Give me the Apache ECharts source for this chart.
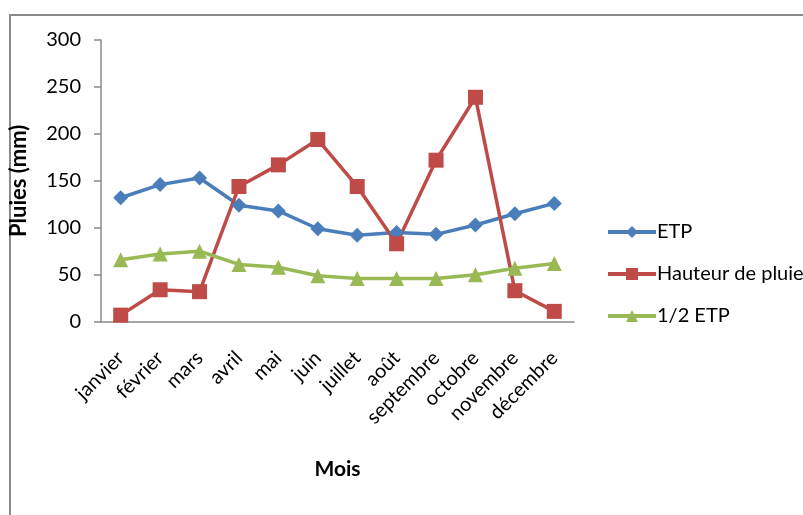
<!DOCTYPE html>
<html>
<head>
<meta charset="utf-8">
<script src="https://cdn.jsdelivr.net/npm/echarts@6/dist/echarts.min.js"></script>
<style>
html,body{margin:0;padding:0;background:#fff;}
#chart{width:803px;height:515px;}
</style>
</head>
<body>
<div id="chart"></div>
<script>
// Mois de l'année
const mois = ['janvier','février','mars','avril','mai','juin','juillet','août','septembre','octobre','novembre','décembre'];
// Évapotranspiration potentielle (mm)
const etp = [132, 146, 153, 124, 118, 99, 92, 95, 93, 103, 115, 126];
// Hauteur de pluie mensuelle (mm)
const pluie = [7, 34, 32, 144, 167, 194, 144, 83, 172, 239, 33, 11];
// Moitié de l'ETP (mm)
const demiEtp = [66, 72, 75, 61, 58, 49, 46, 46, 46, 50, 57, 62];
// Graduations de l'axe vertical
const yTicks = [0, 50, 100, 150, 200, 250, 300];

const FONT = 'Lato, "Open Sans", sans-serif';
const chart = echarts.init(document.getElementById('chart'), null, {renderer: 'canvas'});

const mkSeries = (name, data, color, symbol, size) => ({
  name, type: 'line', data,
  symbol, symbolSize: size,
  lineStyle: {color, width: 3.5},
  itemStyle: {color},
  emphasis: {disabled: true},
  animation: false
});

chart.setOption({
  animation: false,
  graphic: [{
    type: 'rect',
    shape: {x: 10, y: 15, width: 820, height: 530},
    style: {fill: 'none', stroke: '#8a8a8a', lineWidth: 2},
    silent: true
  }],
  grid: {left: 100, top: 40, width: 474, height: 281.7},
  legend: {
    orient: 'vertical',
    left: 601, top: 217,
    itemWidth: 48, itemHeight: 15, itemGap: 22,
    lineStyle: {width: 4},
    textStyle: {fontFamily: FONT, fontSize: 20, color: '#000', padding: [0, 0, 0, -4]},
    data: ['ETP', 'Hauteur de pluie', '1/2 ETP']
  },
  xAxis: {
    type: 'category',
    data: mois,
    boundaryGap: true,
    axisLine: {lineStyle: {color: '#8a8a8a', width: 1.5}},
    axisTick: {show: false},
    axisLabel: {rotate: 45, interval: 0, margin: 33, fontFamily: FONT, fontSize: 20, color: '#000'},
    name: 'Mois',
    nameLocation: 'middle',
    nameGap: 137,
    nameTextStyle: {fontFamily: FONT, fontSize: 21, fontWeight: 'bold', color: '#000'}
  },
  yAxis: {
    type: 'value',
    min: yTicks[0], max: yTicks[yTicks.length - 1], interval: yTicks[1] - yTicks[0],
    axisLine: {show: true, lineStyle: {color: '#8a8a8a', width: 1.5}},
    axisTick: {show: true, length: 7, lineStyle: {color: '#8a8a8a', width: 1.5}},
    splitLine: {show: false},
    axisLabel: {margin: 20, fontFamily: FONT, fontSize: 20, color: '#000'},
    name: 'Pluies (mm)',
    nameLocation: 'middle',
    nameRotate: 90,
    nameGap: 71,
    nameTextStyle: {fontFamily: FONT, fontSize: 22, fontWeight: 'bold', color: '#000'}
  },
  series: [
    mkSeries('ETP', etp, '#4a7ebb', 'diamond', 15),
    mkSeries('Hauteur de pluie', pluie, '#be4b48', 'rect', 15),
    mkSeries('1/2 ETP', demiEtp, '#98b954', 'triangle', 15)
  ]
});
</script>
</body>
</html>
